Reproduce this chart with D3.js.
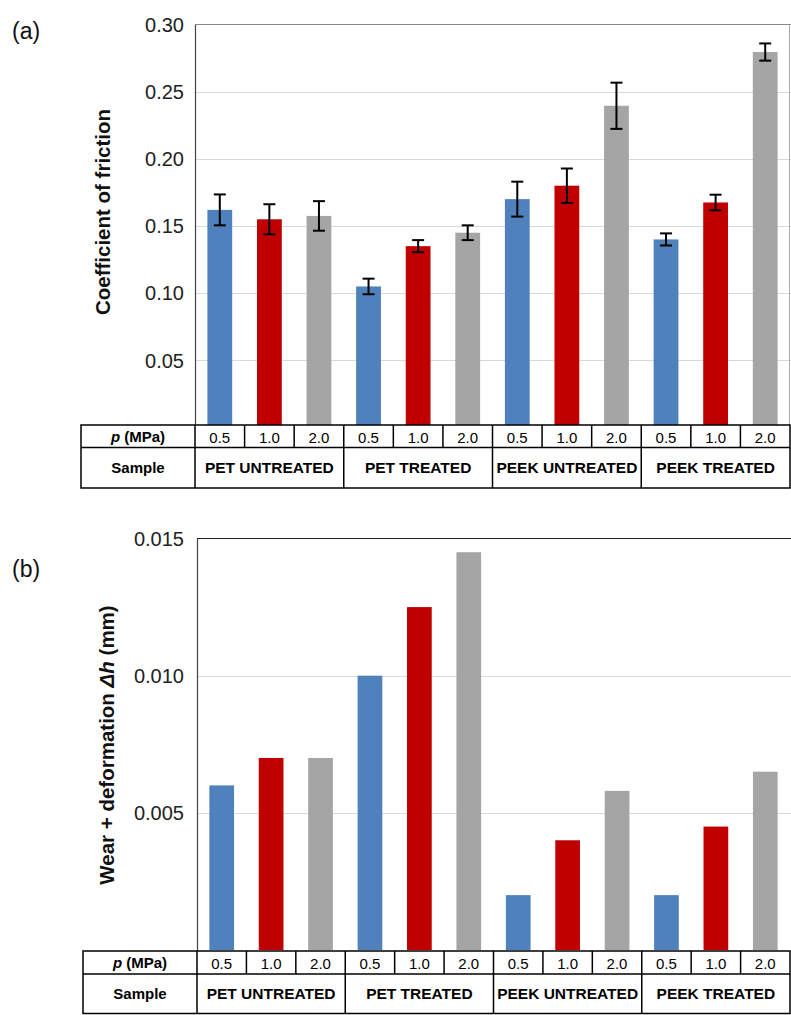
<!DOCTYPE html>
<html>
<head>
<meta charset="utf-8">
<script src="https://cdn.jsdelivr.net/npm/d3@7"></script>
<style>
  body { margin: 0; background: #fff; }
  svg { display: block; font-family: "Liberation Sans", Arial, sans-serif; }
</style>
</head>
<body>
<svg id="chart" width="791" height="1015"></svg>
<script>
// data
const groups = ['PET UNTREATED', 'PET TREATED', 'PEEK UNTREATED', 'PEEK TREATED'];
const pressures = ['0.5', '1.0', '2.0'];
const colors = ['#4f81bd', '#c00000', '#a5a5a5'];

const frictionMean = [0.162, 0.155, 0.1575, 0.105, 0.135, 0.145, 0.170, 0.180, 0.2395, 0.140, 0.1675, 0.2795];
const frictionErr = [0.0115, 0.0112, 0.011, 0.0058, 0.0045, 0.0055, 0.013, 0.0128, 0.0172, 0.0045, 0.0058, 0.0064];
const frictionTicks = [0.05, 0.10, 0.15, 0.20, 0.25, 0.30];

const wear = [0.006, 0.007, 0.007, 0.010, 0.0125, 0.0145, 0.002, 0.004, 0.0058, 0.002, 0.0045, 0.0065];
const wearTicks = [0.005, 0.010, 0.015];

const svg = d3.select('#chart');

const cells = [];
groups.forEach((g, gi) => pressures.forEach((p, pi) => cells.push({key: gi + '-' + pi, group: gi, p: pi})));

function drawPanel(opt) {
  const x = d3.scaleBand()
    .domain(cells.map(c => c.key))
    .range([opt.left, opt.right])
    .paddingInner(0.5)
    .paddingOuter(0.25);
  const y = d3.scaleLinear().domain([0, opt.max]).range([opt.bottom, opt.top]);
  const g = svg.append('g');

  // gridlines
  g.selectAll('line.grid')
    .data(opt.ticks.filter(t => t < opt.max))
    .join('line')
    .attr('x1', opt.left).attr('x2', 791)
    .attr('y1', d => Math.round(y(d)) + 0.5).attr('y2', d => Math.round(y(d)) + 0.5)
    .attr('stroke', '#d9d9d9');

  // bars
  g.selectAll('rect.bar')
    .data(cells)
    .join('rect')
    .attr('x', d => x(d.key))
    .attr('width', x.bandwidth())
    .attr('y', (d, i) => y(opt.values[i]))
    .attr('height', (d, i) => opt.bottom - y(opt.values[i]))
    .attr('fill', d => colors[d.p]);

  // error bars
  if (opt.errors) {
    const eb = g.selectAll('g.err')
      .data(cells)
      .join('g')
      .attr('transform', d => `translate(${x(d.key) + x.bandwidth() / 2},0)`)
      .attr('stroke', '#000').attr('stroke-width', 2);
    eb.append('line')
      .attr('y1', (d, i) => y(opt.values[i] - opt.errors[i]))
      .attr('y2', (d, i) => y(opt.values[i] + opt.errors[i]));
    [-1, 1].forEach(s => {
      eb.append('line')
        .attr('x1', -6).attr('x2', 6)
        .attr('y1', (d, i) => y(opt.values[i] + s * opt.errors[i]))
        .attr('y2', (d, i) => y(opt.values[i] + s * opt.errors[i]));
    });
  }

  // frame
  g.append('line')
    .attr('x1', opt.left + 0.5).attr('x2', opt.left + 0.5)
    .attr('y1', y(opt.max)).attr('y2', opt.tableTop)
    .attr('stroke', '#444').attr('stroke-width', 1.2);
  g.append('line')
    .attr('x1', opt.left).attr('x2', 791)
    .attr('y1', y(opt.max)).attr('y2', y(opt.max))
    .attr('stroke', opt.topColor).attr('stroke-width', 1.2);
  if (opt.rightBorder) {
    g.append('line')
      .attr('x1', opt.right - 0.5).attr('x2', opt.right - 0.5)
      .attr('y1', y(opt.max)).attr('y2', opt.tableTop)
      .attr('stroke', '#aaa');
  }

  // y tick labels
  g.selectAll('text.tick')
    .data(opt.ticks)
    .join('text')
    .attr('x', 184)
    .attr('y', d => y(d))
    .attr('dy', '0.36em')
    .attr('text-anchor', 'end')
    .attr('font-size', 20)
    .attr('fill', '#222')
    .text(d => d.toFixed(opt.digits));

  // y title
  const title = g.append('text')
    .attr('transform', `translate(${opt.titleX},${opt.titleY}) rotate(-90)`)
    .attr('text-anchor', 'middle')
    .attr('font-size', 20.5)
    .attr('font-weight', 'bold')
    .attr('fill', '#111');
  opt.title.forEach(part => {
    title.append('tspan').attr('font-style', part.italic ? 'italic' : null).text(part.t);
  });

  // panel letter
  g.append('text')
    .attr('x', 12).attr('y', opt.letterY)
    .attr('font-size', 23)
    .attr('fill', '#111')
    .text(opt.letter);

  // table under the plot
  const t0 = opt.tableTop, t1 = opt.tableMid, t2 = opt.tableBottom;
  const step = x.step();
  const colEdge = i => opt.left + i * step;
  const tbl = g.append('g').attr('stroke', '#000').attr('stroke-width', 1.5);
  tbl.append('rect')
    .attr('x', opt.tableLeft).attr('y', t0)
    .attr('width', opt.right - opt.tableLeft).attr('height', t2 - t0)
    .attr('fill', '#fff');
  tbl.append('line').attr('x1', opt.tableLeft).attr('x2', opt.right).attr('y1', t1).attr('y2', t1);
  tbl.append('line').attr('x1', opt.left).attr('x2', opt.left).attr('y1', t0).attr('y2', t2);
  tbl.selectAll('line.pcol')
    .data(d3.range(1, cells.length))
    .join('line')
    .attr('x1', colEdge).attr('x2', colEdge)
    .attr('y1', t0).attr('y2', d => d % 3 === 0 ? t2 : t1);

  const lab = g.append('g').attr('font-size', 15).attr('fill', '#000').attr('text-anchor', 'middle');
  const labX = (opt.tableLeft + opt.left) / 2;
  const pl = lab.append('text').attr('x', labX).attr('y', (t0 + t1) / 2).attr('dy', '0.36em').attr('font-weight', 'bold');
  pl.append('tspan').attr('font-style', 'italic').text('p');
  pl.append('tspan').text(' (MPa)');
  lab.append('text').attr('x', labX).attr('y', (t1 + t2) / 2).attr('dy', '0.36em')
    .attr('font-weight', 'bold').text('Sample');

  lab.selectAll('text.pv')
    .data(cells)
    .join('text')
    .attr('x', d => x(d.key) + x.bandwidth() / 2)
    .attr('y', (t0 + t1) / 2 + 1)
    .attr('dy', '0.36em')
    .text(d => pressures[d.p]);

  lab.selectAll('text.gv')
    .data(groups)
    .join('text')
    .attr('x', (d, i) => colEdge(i * 3 + 1.5))
    .attr('y', (t1 + t2) / 2)
    .attr('dy', '0.36em')
    .attr('font-weight', 'bold')
    .attr('font-size', 15.5)
    .text(d => d);
}

drawPanel({
  values: frictionMean, errors: frictionErr, ticks: frictionTicks, max: 0.30, digits: 2,
  left: 195, right: 790, top: 24.5, bottom: 427.5,
  tableLeft: 81, tableTop: 425, tableMid: 447.5, tableBottom: 488,
  topColor: '#888', rightBorder: true,
  title: [{t: 'Coefficient of friction'}], titleX: 110, titleY: 212,
  letter: '(a)', letterY: 39
});

drawPanel({
  values: wear, errors: null, ticks: wearTicks, max: 0.015, digits: 3,
  left: 197, right: 790, top: 538.5, bottom: 950,
  tableLeft: 83, tableTop: 951, tableMid: 974, tableBottom: 1013.5,
  topColor: '#222', rightBorder: false,
  title: [{t: 'Wear + deformation '}, {t: 'Δh', italic: true}, {t: ' (mm)'}], titleX: 114, titleY: 745,
  letter: '(b)', letterY: 577
});
</script>
</body>
</html>
